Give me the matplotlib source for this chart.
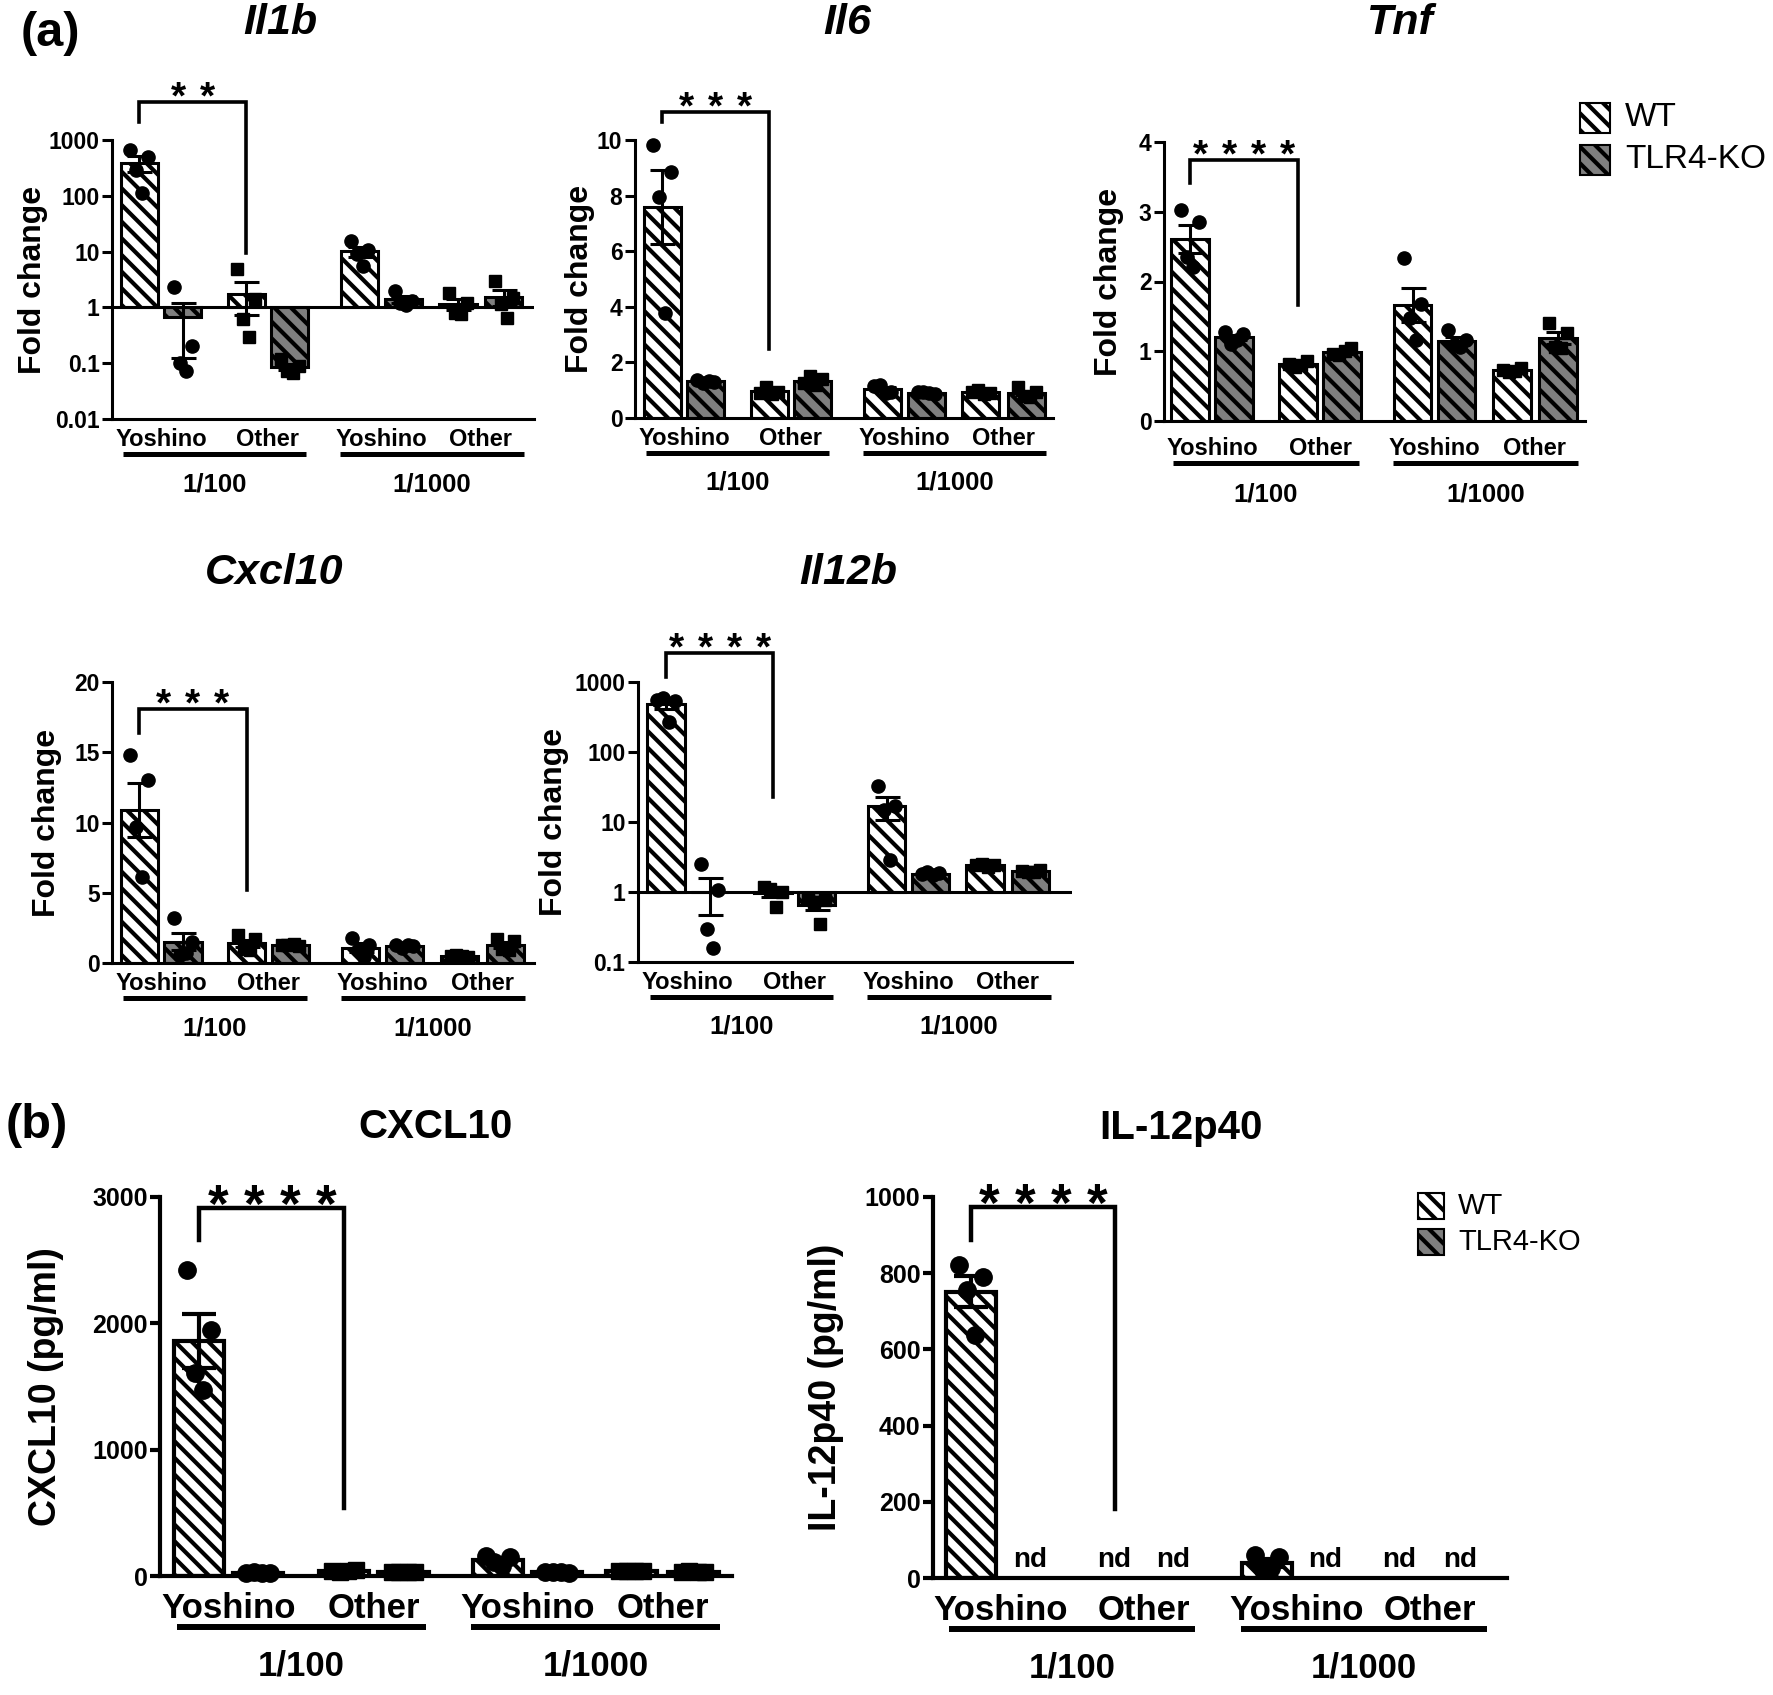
import matplotlib
matplotlib.use('Agg')
import matplotlib.pyplot as plt
import numpy as np
from matplotlib.patches import Rectangle
from matplotlib.ticker import NullLocator
from matplotlib.transforms import offset_copy

plt.rcParams['font.family'] = ['Liberation Sans', 'DejaVu Sans']
plt.rcParams['font.weight'] = 'bold'
plt.rcParams['hatch.linewidth'] = 3.0

W, H = 1773, 1695

# bar order: (1/100 Yoshino WT, KO), (1/100 Other WT, KO), (1/1000 Yoshino WT, KO), (1/1000 Other WT, KO)
groups = ['Yoshino', 'Other', 'Yoshino', 'Other']
dilutions = ['1/100', '1/1000']
genotypes = ['WT', 'TLR4-KO']
pos = [0, 1, 2.45, 3.45, 5.05, 6.05, 7.3, 8.35]

# individual points per bar (4 mice)
il1b_pts = [[663, 504, 291, 112], [2.3, 0.2, 0.1, 0.073], [4.8, 1.39, 0.61, 0.29], [0.118, 0.09, 0.073, 0.068],
            [15.3, 10.5, 9.0, 5.5], [2.0, 1.3, 1.18, 1.09], [1.83, 1.21, 0.8, 0.75], [3.0, 1.49, 1.13, 0.65]]
il6_pts = [[9.82, 8.86, 7.94, 3.77], [1.38, 1.3, 1.25, 1.33], [0.9, 0.95, 1.1, 0.88], [1.25, 1.42, 1.5, 1.2],
           [1.14, 0.95, 1.2, 0.9], [0.95, 0.85, 0.92, 0.9], [0.95, 0.9, 1.0, 0.85], [1.1, 0.95, 0.8, 0.75]]
tnf_pts = [[3.02, 2.86, 2.35, 2.21], [1.28, 1.25, 1.1, 1.16], [0.82, 0.86, 0.78, 0.8], [0.96, 1.05, 0.95, 1.0],
           [2.33, 1.68, 1.47, 1.16], [1.3, 1.16, 1.09, 1.06], [0.73, 0.76, 0.7, 0.72], [1.4, 1.26, 1.06, 1.05]]
cxcl10_pts = [[14.8, 13.0, 9.7, 6.1], [3.2, 1.5, 0.6, 0.7], [2.0, 1.7, 1.0, 0.9], [1.3, 1.2, 1.3, 1.35],
              [1.8, 1.3, 0.9, 0.4], [1.3, 1.2, 1.1, 1.25], [0.5, 0.4, 0.6, 0.5], [1.7, 1.6, 1.0, 0.9]]
il12b_pts = [[550, 530, 590, 270], [2.54, 1.06, 0.3, 0.16], [1.18, 1.0, 1.12, 0.61], [0.8, 0.76, 0.72, 0.35],
             [33, 17, 14.7, 2.83], [1.8, 1.85, 1.9, 1.75], [2.45, 2.4, 2.5, 2.3], [2.0, 2.05, 1.95, 1.9]]
cxcl10_elisa = [[2424, 1950, 1605, 1470], [25, 20, 30, 25], [40, 45, 35, 40], [30, 28, 32, 30],
                [160, 150, 110, 80], [30, 25, 28, 30], [40, 38, 42, 40], [35, 33, 37, 35]]
il12p40_elisa = [[821, 791, 756, 637], [], [], [], [60, 55, 20, 25], [], [], []]   # [] = not detected

log_ticks = [0.01, 0.1, 1, 10, 100, 1000]
log_labels = ['0.01', '0.1', '1', '10', '100', '1000']
il6_ticks = [0, 2, 4, 6, 8, 10]
tnf_ticks = [0, 1, 2, 3, 4]
cxcl10_ticks = [0, 5, 10, 15, 20]
elisa_cxcl10_ticks = [0, 1000, 2000, 3000]
elisa_il12_ticks = [0, 200, 400, 600, 800, 1000]

WT_C, KO_C = 'white', '#7f7f7f'
HATCH = '\\\\'
offs = np.array([-0.2, 0.2, -0.07, 0.07])

row_a = dict(lw=2.2, cap=9, ms=9.5, tick_fs=16.5, lab_fs=17, dil_fs=18.5, ylab_fs=23, star_fs=28,
             star_gap=29, ul_lw=3.6, dy=(9, 35, 53), bw=0.85, brlw=2.6)
row_b = dict(lw=3.0, cap=12, ms=12.5, tick_fs=18, lab_fs=25, dil_fs=25, ylab_fs=27, star_fs=38,
             star_gap=36, ul_lw=4.3, dy=(16, 51, 74), bw=0.85, brlw=3.2)

fig = plt.figure(figsize=(W / 100, H / 100), dpi=100)


def draw_panel(pts, rect, xlim, ylim, ticks, labels, st, log=False, ylabel='Fold change',
               ylab_dx=-60, nstars=4, bracket=(1.0, 1.05, 0.3), dy=None, nd=False):
    l, r, t, b = rect
    ax = fig.add_axes([l / W, 1 - b / H, (r - l) / W, (b - t) / H])
    x = np.array(pos, dtype=float)
    means = np.array([np.mean(v) if v else np.nan for v in pts])
    sems = np.array([np.std(v, ddof=1) / np.sqrt(len(v)) if v else np.nan for v in pts])
    base = 1.0 if log else 0.0
    if log:
        ax.set_yscale('log')
    has = ~np.isnan(means)
    cols = np.array([WT_C if i % 2 == 0 else KO_C for i in range(len(pts))])
    ax.bar(x[has], means[has] - base, bottom=base, width=st['bw'], color=cols[has],
           edgecolor='k', linewidth=st['lw'], hatch=HATCH, zorder=2)
    if log:
        ax.axhline(1, color='k', lw=st['lw'], zorder=2.5)
    ax.errorbar(x[has], means[has], yerr=sems[has], fmt='none', ecolor='k',
                elinewidth=st['lw'], capsize=st['cap'], capthick=st['lw'], zorder=3)
    for i, v in enumerate(pts):
        if not v:
            continue
        mk = 'o' if i in (0, 1, 4, 5) else 's'
        ax.plot(x[i] + offs[:len(v)], v, ls='none', marker=mk, ms=st['ms'] if mk == 'o' else st['ms'] * 0.9,
                color='k', zorder=4, clip_on=False)
    ax.set_xlim(xlim)
    ax.set_ylim(ylim)
    ax.set_yticks(ticks)
    ax.set_yticklabels(labels)
    ax.yaxis.set_minor_locator(NullLocator())
    ax.set_xticks([])
    ax.tick_params(axis='y', length=7, width=st['lw'], labelsize=st['tick_fs'], pad=2)
    for s in ['top', 'right']:
        ax.spines[s].set_visible(False)
    for s in ['left', 'bottom']:
        ax.spines[s].set_linewidth(st['lw'])
    ax.patch.set_alpha(0)

    xt = ax.get_xaxis_transform()
    d1, d2, d3 = dy if dy else st['dy']
    for k in range(4):
        xc = (x[2 * k] + x[2 * k + 1]) / 2
        ax.text(xc, 0, groups[k], transform=offset_copy(xt, fig=fig, y=-d1, units='dots'),
                ha='center', va='top', fontsize=st['lab_fs'])
    for d in range(2):
        xc = (x[4 * d] + x[4 * d + 3]) / 2
        ax.plot([xc - 2.1, xc + 2.1], [0, 0], transform=offset_copy(xt, fig=fig, y=-d2, units='dots'),
                color='k', lw=st['ul_lw'], clip_on=False, solid_capstyle='butt')
        ax.text(xc, 0, dilutions[d], transform=offset_copy(xt, fig=fig, y=-d3, units='dots'),
                ha='center', va='top', fontsize=st['dil_fs'])

    yl, ytop, yr = bracket
    ax.plot([x[0], x[0], x[2], x[2]], [yl, ytop, ytop, yr], transform=xt, color='k',
            lw=st['brlw'], clip_on=False, solid_joinstyle='miter')
    fs_px = st['star_fs'] * 100 / 72
    for i in range(nstars):
        dx = (i - (nstars - 1) / 2) * st['star_gap']
        ax.text((x[0] + x[2]) / 2, ytop, '*',
                transform=offset_copy(xt, fig=fig, x=dx, y=16 - 0.57 * fs_px, units='dots'),
                ha='center', va='baseline', fontsize=st['star_fs'])

    ax.text(0, 0.5, ylabel, transform=offset_copy(ax.transAxes, fig=fig, x=ylab_dx, units='dots'),
            rotation=90, ha='center', va='center', fontsize=st['ylab_fs'])
    if nd:
        for i, v in enumerate(pts):
            if not v:
                ax.text(x[i], 0, 'nd', transform=offset_copy(xt, fig=fig, y=5, units='dots'),
                        ha='center', va='bottom', fontsize=20)
    return ax


def fig_text(x, y, s, **kw):
    fig.text(x / W, 1 - y / H, s, ha='center', va='center', **kw)


def legend(x, y, size, gap, fs, tx):
    for j, (g, c) in enumerate(zip(genotypes, [WT_C, KO_C])):
        y0 = y + j * gap
        fig.add_artist(Rectangle((x / W, 1 - (y0 + size) / H), size / W, size / H, transform=fig.transFigure,
                                 facecolor=c, edgecolor='k', lw=1.5, hatch=HATCH))
        fig.text(tx / W, 1 - (y0 + size / 2) / H, g, fontsize=fs, fontweight='normal', ha='left', va='center')


# (a) qPCR
draw_panel(il1b_pts, (112, 534, 140, 419), (-0.62, 9.04), (0.01, 1000), log_ticks, log_labels, row_a,
           log=True, ylab_dx=-79, nstars=2, bracket=(1.065, 1.136, 0.595))
draw_panel(il6_pts, (635, 1053, 140, 418), (-0.62, 8.95), (0, 10), il6_ticks, [str(v) for v in il6_ticks], row_a,
           ylab_dx=-55, nstars=3, bracket=(1.065, 1.10, 0.25))
draw_panel(tnf_pts, (1164, 1585, 142, 421), (-0.59, 8.96), (0, 4), tnf_ticks, [str(v) for v in tnf_ticks], row_a,
           ylab_dx=-55, nstars=4, bracket=(0.853, 0.935, 0.416), dy=(16, 42, 61))
draw_panel(cxcl10_pts, (112, 534, 682, 963), (-0.62, 9.0), (0, 20), cxcl10_ticks, [str(v) for v in cxcl10_ticks],
           row_a, ylab_dx=-65, nstars=3, bracket=(0.819, 0.904, 0.26))
draw_panel(il12b_pts, (638, 1072, 682, 962), (-0.64, 9.29), (0.1, 1000), log_ticks[1:], log_labels[1:], row_a,
           log=True, ylab_dx=-84, nstars=4, bracket=(1.018, 1.104, 0.589))

# (b) ELISA
draw_panel(cxcl10_elisa, (160, 732, 1197, 1576), (-0.66, 9.0), (0, 3000), elisa_cxcl10_ticks,
           [str(v) for v in elisa_cxcl10_ticks], row_b, ylabel='CXCL10 (pg/ml)', ylab_dx=-114, nstars=4,
           bracket=(0.887, 0.971, 0.18))
draw_panel(il12p40_elisa, (933, 1507, 1197, 1578), (-0.65, 9.15), (0, 1000), elisa_il12_ticks,
           [str(v) for v in elisa_il12_ticks], row_b, ylabel='IL-12p40 (pg/ml)', ylab_dx=-107, nstars=4,
           bracket=(0.887, 0.974, 0.18), nd=True)

fig_text(50, 34, '(a)', fontsize=35)
fig_text(37, 1125, '(b)', fontsize=35)
for s, xy in [('Il1b', (280, 23)), ('Il6', (847, 23)), ('Tnf', (1400, 23)),
              ('Cxcl10', (274, 573)), ('Il12b', (848, 573))]:
    fig_text(*xy, s, fontsize=31, style='italic')
fig_text(436, 1127, 'CXCL10', fontsize=29)
fig_text(1181, 1128, 'IL-12p40', fontsize=29)

legend(1580, 103, 30, 42, 24, 1625)
legend(1418, 1193, 26, 36, 21, 1458)

fig.savefig('out.png', dpi=100)
